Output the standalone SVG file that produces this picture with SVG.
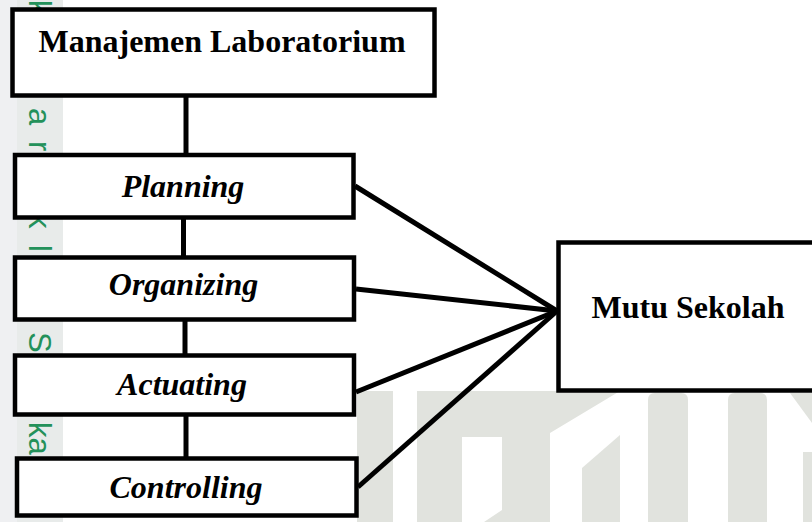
<svg xmlns="http://www.w3.org/2000/svg" width="812" height="522" viewBox="0 0 812 522">
  <style>
    .box { fill: #ffffff; stroke: #000000; stroke-width: 4.5; }
    .lbl { font-family: "Liberation Serif", "Times New Roman", serif; font-weight: bold; font-size: 32px; fill: #000000; text-anchor: middle; }
    .it { font-style: italic; }
    .conn { stroke: #000000; stroke-width: 5; fill: none; stroke-linecap: butt; }
    .wm { fill: #e1e3de; stroke: none; }
    .wmt { font-family: "Liberation Sans", Arial, sans-serif; font-size: 31px; fill: #23915a; }
  </style>

  <rect x="0" y="0" width="812" height="522" fill="#ffffff"/>

  <!-- watermark (background) -->
  <g id="watermark">
    <rect x="0" y="0" width="63" height="522" fill="#eff0f2"/>
    <rect x="17" y="0" width="46" height="522" fill="#e8ebea"/>
    <text class="wmt" transform="translate(29,0) rotate(90)">k</text>
    <text class="wmt" transform="translate(29,108) rotate(90)">a</text>
    <text class="wmt" transform="translate(29,141) rotate(90)">r</text>
    <text class="wmt" transform="translate(29,213) rotate(90)">k</text>
    <text class="wmt" transform="translate(29,245) rotate(90)">l</text>
    <text class="wmt" transform="translate(29,332) rotate(90)">S</text>
    <text class="wmt" transform="translate(29,422) rotate(90)">ka</text>

    <rect class="wm" x="357" y="391" width="36" height="131"/>
    <polygon class="wm" points="417,391 620,391 550,433 550,522 484,522 502,510 502,437 462,437 462,522 417,522"/>
    <polygon class="wm" points="582,468 620,435 620,522 582,522"/>
    <path class="wm" d="M648,522 V400 Q648,393 655,393 H681 Q688,393 688,400 V522 Z"/>
    <path class="wm" d="M728,522 V400 Q728,393 735,393 H760 Q767,393 767,400 V522 Z"/>
    <polygon class="wm" points="790,393 812,393 812,423"/>
    <rect class="wm" x="803" y="452" width="9" height="70"/>
  </g>

  <!-- connectors -->
  <g id="connectors">
    <line class="conn" x1="186" y1="97" x2="186" y2="154"/>
    <line class="conn" x1="183.5" y1="219" x2="183.5" y2="257"/>
    <line class="conn" x1="185" y1="321" x2="185" y2="355"/>
    <line class="conn" x1="186" y1="416" x2="186" y2="458"/>
    <line class="conn" x1="355" y1="186" x2="557" y2="311"/>
    <line class="conn" x1="356" y1="289" x2="557" y2="311"/>
    <line class="conn" x1="356" y1="392" x2="557" y2="311"/>
    <line class="conn" x1="358" y1="487" x2="557" y2="311"/>
  </g>

  <g id="node-manajemen">
    <rect class="box" x="12.5" y="9.5" width="422" height="86"/>
    <text class="lbl" x="222" y="52">Manajemen Laboratorium</text>
  </g>
  <g id="node-planning">
    <rect class="box" x="15" y="155" width="338.5" height="62.5"/>
    <text class="lbl it" x="183" y="197">Planning</text>
  </g>
  <g id="node-organizing">
    <rect class="box" x="15" y="257.5" width="339" height="62"/>
    <text class="lbl it" x="183.5" y="295">Organizing</text>
  </g>
  <g id="node-actuating">
    <rect class="box" x="15" y="355.5" width="339" height="59"/>
    <text class="lbl it" x="182" y="395">Actuating</text>
  </g>
  <g id="node-controlling">
    <rect class="box" x="17" y="458.5" width="339.5" height="57"/>
    <text class="lbl it" x="186" y="498">Controlling</text>
  </g>
  <g id="node-mutu">
    <rect class="box" x="558.5" y="242.5" width="270" height="148"/>
    <text class="lbl" x="688" y="318">Mutu Sekolah</text>
  </g>
</svg>
